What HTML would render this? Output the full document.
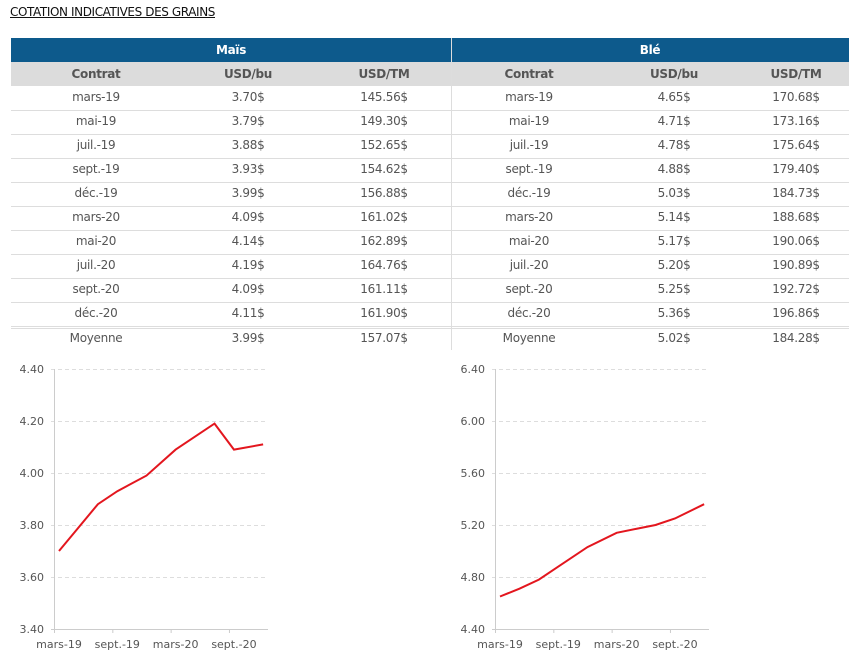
<!DOCTYPE html>
<html><head><meta charset="utf-8"><style>
body{margin:0;width:849px;height:657px;background:#fff;font-family:"DejaVu Sans","Liberation Sans",sans-serif;position:relative;overflow:hidden;color:#555}
.t{position:absolute;font-size:12px;text-align:center;transform:translateX(-50%);white-space:nowrap;letter-spacing:-0.3px}
#title{position:absolute;left:10px;top:5px;font-size:12px;color:#111;text-decoration:underline;letter-spacing:-0.4px}
.hl{position:absolute;height:1px;background:#ddd}
</style></head><body>
<div id="title">COTATION INDICATIVES DES GRAINS</div>
<div style="position:absolute;left:11px;top:38px;width:440px;height:24px;background:#0d5a8c"></div>
<div style="position:absolute;left:452px;top:38px;width:397px;height:24px;background:#0d5a8c"></div>
<div style="position:absolute;left:11px;top:62px;width:838px;height:24px;background:#dcdcdc"></div>
<div style="position:absolute;left:451px;top:38px;width:1px;height:312px;background:#ddd"></div>
<div id="tbl"></div>
<svg id="c1" width="849" height="657" style="position:absolute;left:0;top:0"></svg>
<script>
const contracts=["mars-19","mai-19","juil.-19","sept.-19","déc.-19","mars-20","mai-20","juil.-20","sept.-20","déc.-20"];
const months=[0,2,4,6,9,12,14,16,18,21];
const maisBu=[3.70,3.79,3.88,3.93,3.99,4.09,4.14,4.19,4.09,4.11];
const maisTm=[145.56,149.30,152.65,154.62,156.88,161.02,162.89,164.76,161.11,161.90];
const bleBu=[4.65,4.71,4.78,4.88,5.03,5.14,5.17,5.20,5.25,5.36];
const bleTm=[170.68,173.16,175.64,179.40,184.73,188.68,190.06,190.89,192.72,196.86];
const maisAvg=["3.99$","157.07$"], bleAvg=["5.02$","184.28$"];
const maisTicks=[3.4,3.6,3.8,4.0,4.2,4.4], bleTicks=[4.4,4.8,5.2,5.6,6.0,6.4];
const xLabels=["mars-19","sept.-19","mars-20","sept.-20"], xLabelMonths=[0,6,12,18];

const tbl=document.getElementById('tbl');
function txt(s,x,y,o){const d=document.createElement('div');d.className='t';d.textContent=s;d.style.left=x+'px';d.style.top=y+'px';if(o)Object.assign(d.style,o);tbl.appendChild(d);return d;}
let d;
d=txt("Maïs",231,43,{color:'#fff',fontWeight:'bold'});


d=txt("Blé",650,43,{color:'#fff',fontWeight:'bold'});


const cols=[96,248,384,529,674,796];
["Contrat","USD/bu","USD/TM","Contrat","USD/bu","USD/TM"].forEach((h,i)=>{
 d=txt(h,cols[i],67,{fontWeight:'bold'});
 
 
});
contracts.forEach((c,i)=>{
 const y=90+i*24;
 const vals=[c,maisBu[i].toFixed(2)+"$",maisTm[i].toFixed(2)+"$",c,bleBu[i].toFixed(2)+"$",bleTm[i].toFixed(2)+"$"];
 vals.forEach((v,j)=>{d=txt(v,cols[j],y);
  
  });
 const l=document.createElement('div');l.className='hl';l.style.left='11px';l.style.width='838px';l.style.top=(110+i*24)+'px';
 if(i==9){l.style.top='326px';l.style.height='1px';}
 
 
 tbl.appendChild(l);
});
const l2=document.createElement('div');l2.className='hl';l2.style.cssText='left:11px;width:838px;top:328px';


tbl.appendChild(l2);
[["Moyenne",maisAvg[0],maisAvg[1],"Moyenne",bleAvg[0],bleAvg[1]]][0].forEach((v,j)=>{d=txt(v,cols[j],331);
 
 });

const svg=document.getElementById('c1');const NS="http://www.w3.org/2000/svg";
function el(t,a){const e=document.createElementNS(NS,t);for(const k in a)e.setAttribute(k,a[k]);svg.appendChild(e);return e;}
function chart(ax,x0,vals,ticks,name){
 const ymin=ticks[0],ymax=ticks[ticks.length-1];
 const Y=v=>629-(v-ymin)/(ymax-ymin)*260;
 const X=m=>x0+m*9.72;
 ticks.forEach(t=>{
  let g=el('line',{x1:ax-3,x2:ax+214,y1:Y(t)+.5,y2:Y(t)+.5,stroke:t==ymin?'#ccc':'#ddd','stroke-dasharray':t==ymin?'':'4,3'});
  
  
  let tx=el('text',{x:ax-10,y:Y(t)+4,'text-anchor':'end','font-size':11,fill:'#555','font-family':'DejaVu Sans, sans-serif'});tx.textContent=t.toFixed(2);
  
  
 });
 let a=el('line',{x1:ax+.5,x2:ax+.5,y1:369,y2:632,stroke:'#ccc'});
 
 
 xLabelMonths.forEach((m,i)=>{
  let tk=el('line',{x1:X(m)-4.5,x2:X(m)-4.5,y1:629,y2:633,stroke:'#ccc'});
  
  
  let tx=el('text',{x:X(m),y:648,'text-anchor':'middle','font-size':11,fill:'#555','font-family':'DejaVu Sans, sans-serif'});tx.textContent=xLabels[i];
  
  
 });
 let p=el('polyline',{points:vals.map((v,i)=>X(months[i])+','+Y(v)).join(' '),fill:'none',stroke:'#e3161e','stroke-width':2});
 
 
}
chart(54,59,maisBu,maisTicks,'mais-price-line');
chart(495,500,bleBu,bleTicks,'ble-price-line');
</script>
</body></html>
